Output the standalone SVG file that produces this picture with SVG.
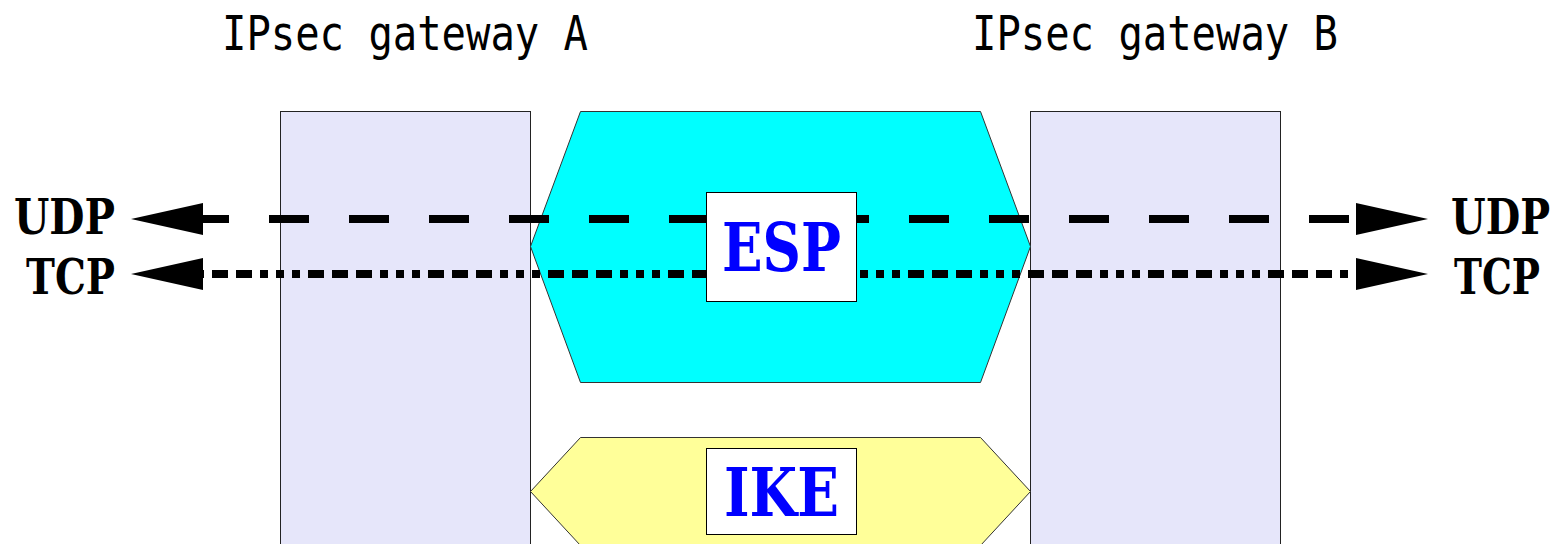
<svg xmlns="http://www.w3.org/2000/svg" width="1561" height="544" viewBox="0 0 1561 544">
  <style>
    .gw { fill: #e6e6fa; stroke: #222; stroke-width: 1; }
    .title { font-family: "DejaVu Sans Mono", "Liberation Mono", monospace; font-size: 48px; fill: #000; }
    .proto { font-family: "DejaVu Serif", "Liberation Serif", serif; font-weight: bold; font-size: 48px; fill: #000; }
    .lbl { font-family: "DejaVu Serif", "Liberation Serif", serif; font-weight: bold; font-size: 67px; fill: #0000ff; }
    .box { fill: #ffffff; stroke: #000; stroke-width: 1; }
    .hex { stroke: #333; stroke-width: 1; }
    .conn { fill: none; stroke: #000; stroke-width: 8; }
  </style>
  <defs>
    <marker id="arr" markerUnits="userSpaceOnUse" markerWidth="74" markerHeight="32" refX="0" refY="16" orient="auto-start-reverse">
      <polygon points="0,0 72,16 0,32" fill="#000"/>
    </marker>
  </defs>
  <rect width="1561" height="544" fill="#ffffff"/>

  <g id="gateway-a">
    <rect class="gw" x="280.5" y="111.5" width="250" height="440"/>
    <text class="title" x="222" y="50" textLength="366" lengthAdjust="spacingAndGlyphs">IPsec gateway A</text>
  </g>
  <g id="gateway-b">
    <rect class="gw" x="1030.5" y="111.5" width="250" height="440"/>
    <text class="title" x="972" y="50" textLength="366" lengthAdjust="spacingAndGlyphs">IPsec gateway B</text>
  </g>

  <g id="esp-tunnel">
    <polygon class="hex" fill="#00ffff" points="580.5,111.5 980.5,111.5 1030.5,246.5 980.5,382.5 580.5,382.5 530.5,246.5"/>
  </g>
  <g id="ike-tunnel">
    <polygon class="hex" fill="#ffff99" points="580.5,437.5 980.5,437.5 1030.5,491.5 980.5,545.5 580.5,545.5 530.5,491.5"/>
  </g>

  <g id="connectors">
    <line class="conn" x1="203" y1="219" x2="1356" y2="219" stroke-dasharray="40 40" stroke-dashoffset="14" marker-start="url(#arr)" marker-end="url(#arr)"/>
    <line class="conn" x1="203" y1="274" x2="1356" y2="274" stroke-dasharray="16 8 16 8 16 8 8 8 8 8 8 8" stroke-dashoffset="15" marker-start="url(#arr)" marker-end="url(#arr)"/>
  </g>

  <g id="esp">
    <rect class="box" x="706.5" y="192.5" width="150" height="109"/>
    <text class="lbl" x="722" y="271" textLength="119" lengthAdjust="spacingAndGlyphs">ESP</text>
  </g>
  <g id="ike">
    <rect class="box" x="706.5" y="448.5" width="150" height="86"/>
    <text class="lbl" x="724" y="516" textLength="115" lengthAdjust="spacingAndGlyphs">IKE</text>
  </g>

  <g id="udp-left">
    <text class="proto" x="14" y="234" textLength="101" lengthAdjust="spacingAndGlyphs">UDP</text>
  </g>
  <g id="tcp-left">
    <text class="proto" x="26" y="294" textLength="89" lengthAdjust="spacingAndGlyphs">TCP</text>
  </g>
  <g id="udp-right">
    <text class="proto" transform="translate(1451,234) scale(0.85,1)" x="0" y="0" textLength="116.5" lengthAdjust="spacingAndGlyphs">UDP</text>
  </g>
  <g id="tcp-right">
    <text class="proto" x="1454" y="294" textLength="86" lengthAdjust="spacingAndGlyphs">TCP</text>
  </g>
</svg>
